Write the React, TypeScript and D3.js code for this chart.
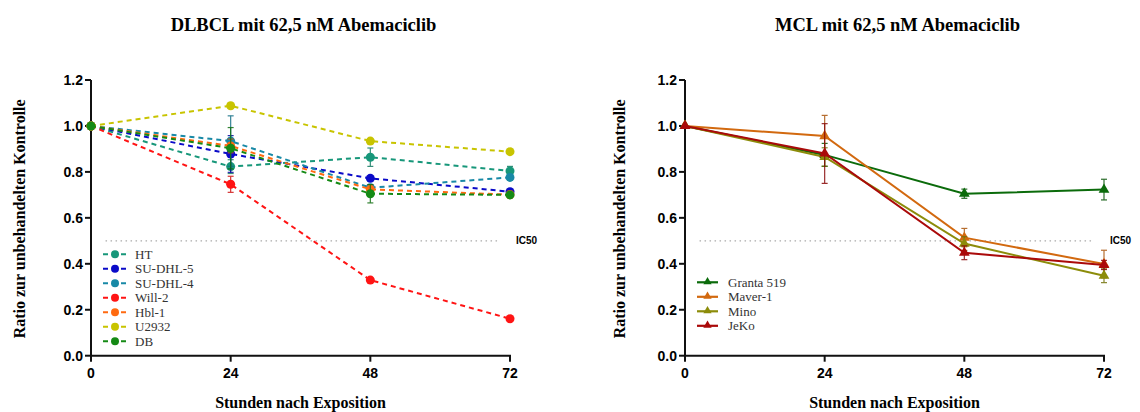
import React from "react";
import * as d3 from "d3";

const hours = [0, 24, 48, 72];
const yTicks = [0, 0.2, 0.4, 0.6, 0.8, 1.0, 1.2];

const dlbclNames = ["HT", "SU-DHL-5", "SU-DHL-4", "Will-2", "Hbl-1", "U2932", "DB"];
const dlbclColors = ["#17977a", "#0a0ac8", "#1889a6", "#ff1414", "#ff6a10", "#c8c400", "#158a15"];
const dlbclValues = [
  [1.0, 0.823, 0.864, 0.804],
  [1.0, 0.878, 0.772, 0.714],
  [1.0, 0.934, 0.731, 0.776],
  [1.0, 0.746, 0.329, 0.161],
  [1.0, 0.913, 0.724, 0.701],
  [1.0, 1.088, 0.934, 0.888],
  [1.0, 0.903, 0.705, 0.700],
];
const dlbclErrors = [
  [0, 0.03, 0.04, 0.02],
  [0, 0.08, 0.01, 0.01],
  [0, 0.11, 0.01, 0.01],
  [0, 0.035, 0.01, 0.005],
  [0, 0.03, 0.02, 0.015],
  [0, 0.01, 0.01, 0.01],
  [0, 0.09, 0.04, 0.01],
];

const mclNames = ["Granta 519", "Maver-1", "Mino", "JeKo"];
const mclColors = ["#0b6b0b", "#d2690f", "#8c8c0a", "#aa0a0a"];
const mclValues = [
  [1.0, 0.874, 0.705, 0.723],
  [1.0, 0.956, 0.514, 0.399],
  [1.0, 0.865, 0.488, 0.348],
  [1.0, 0.88, 0.448, 0.395],
];
const mclErrors = [
  [0, 0.05, 0.02, 0.045],
  [0, 0.09, 0.04, 0.06],
  [0, 0.04, 0.03, 0.03],
  [0, 0.13, 0.03, 0.02],
];

const serif = "'Liberation Serif', 'Times New Roman', serif";
const sans = "'Liberation Sans', Arial, sans-serif";

type PanelProps = {
  x0: number;
  x1: number;
  title: string;
  names: string[];
  colors: string[];
  values: number[][];
  errors: number[][];
  dashed: boolean;
  legendX: number;
  yLabelX: number;
};

function Panel({ x0, x1, title, names, colors, values, errors, dashed, legendX, yLabelX }: PanelProps) {
  const x = d3.scaleLinear().domain([0, 72]).range([x0, x1]);
  const y = d3.scaleLinear().domain([0, 1.2]).range([355.7, 80]);
  const line = d3
    .line<number>()
    .x((_, i) => x(hours[i]))
    .y((d) => y(d));
  const tri = d3.symbol().type(d3.symbolTriangle).size(50)();
  const cx = (x0 + x1) / 2;
  return (
    <g>
      <text x={cx + 3} y={31} textAnchor="middle" fontFamily={serif} fontWeight="bold" fontSize={18.5}>
        {title}
      </text>
      <text
        transform={`translate(${yLabelX},${y(0.6) + 1}) rotate(-90)`}
        textAnchor="middle"
        fontFamily={serif}
        fontWeight="bold"
        fontSize={16}
      >
        Ratio zur unbehandelten Kontrolle
      </text>
      <text x={cx} y={408} textAnchor="middle" fontFamily={serif} fontWeight="bold" fontSize={16}>
        Stunden nach Exposition
      </text>
      {/* IC50 line */}
      <line x1={x(2.5)} x2={x(70)} y1={y(0.5)} y2={y(0.5)} stroke="#aaa" strokeWidth={1.2} strokeDasharray="1.5,3.5" />
      <text x={x(72) + 6} y={y(0.5) + 3.5} fontFamily={sans} fontWeight="bold" fontSize={10}>
        IC50
      </text>
      {/* axes */}
      <line x1={x0} x2={x0} y1={y(1.2)} y2={y(0) + 1} stroke="#111" strokeWidth={2} />
      <line x1={x0 - 1} x2={x1 + 1} y1={y(0)} y2={y(0)} stroke="#111" strokeWidth={2} />
      {yTicks.map((t) => (
        <g key={t}>
          <line x1={x0 - 6} x2={x0} y1={y(t)} y2={y(t)} stroke="#111" strokeWidth={2} />
          <text x={x0 - 8} y={y(t) + 5} textAnchor="end" fontFamily={sans} fontWeight="bold" fontSize={14}>
            {t.toFixed(1)}
          </text>
        </g>
      ))}
      {hours.map((h) => (
        <g key={h}>
          <line x1={x(h)} x2={x(h)} y1={y(0)} y2={y(0) + 6} stroke="#111" strokeWidth={2} />
          <text x={x(h)} y={y(0) + 22} textAnchor="middle" fontFamily={sans} fontWeight="bold" fontSize={14}>
            {h}
          </text>
        </g>
      ))}
      {/* series */}
      {values.map((vals, si) => (
        <g key={si}>
          <path
            d={line(vals) || ""}
            fill="none"
            stroke={colors[si]}
            strokeWidth={2}
            strokeDasharray={dashed ? "5,4" : undefined}
          />
          {vals.map((v, i) =>
            errors[si][i] > 0 ? (
              <g key={i} stroke={d3.color(colors[si])!.darker(0.6).toString()} strokeWidth={1.2} opacity={0.85}>
                <line x1={x(hours[i])} x2={x(hours[i])} y1={y(v - errors[si][i])} y2={y(v + errors[si][i])} />
                <line x1={x(hours[i]) - 3} x2={x(hours[i]) + 3} y1={y(v - errors[si][i])} y2={y(v - errors[si][i])} />
                <line x1={x(hours[i]) - 3} x2={x(hours[i]) + 3} y1={y(v + errors[si][i])} y2={y(v + errors[si][i])} />
              </g>
            ) : null
          )}
          {vals.map((v, i) =>
            dashed ? (
              <circle key={i} cx={x(hours[i])} cy={y(v)} r={4.5} fill={colors[si]} />
            ) : (
              <path key={i} d={tri || ""} transform={`translate(${x(hours[i])},${y(v)})`} fill={colors[si]} />
            )
          )}
        </g>
      ))}
      {/* legend */}
      {names.map((n, i) => {
        const ly = (dashed ? 254.3 : 282.3) + i * 14.5;
        return (
          <g key={n}>
            {dashed ? (
              <>
                <line x1={legendX} x2={legendX + 24} y1={ly} y2={ly} stroke={colors[i]} strokeWidth={2} strokeDasharray="5,4" />
                <circle cx={legendX + 12} cy={ly} r={4} fill={colors[i]} />
              </>
            ) : (
              <>
                <line x1={legendX} x2={legendX + 21} y1={ly} y2={ly} stroke={colors[i]} strokeWidth={2.2} />
                <path d={d3.symbol().type(d3.symbolTriangle).size(30)() || ""} transform={`translate(${legendX + 10.5},${ly - 0.5})`} fill={colors[i]} />
              </>
            )}
            <text x={legendX + (dashed ? 32 : 31)} y={ly + 4.5} fontFamily={serif} fontSize={13} fill="#333">
              {n}
            </text>
          </g>
        );
      })}
    </g>
  );
}

export default function App() {
  return (
    <svg width={1140} height={412} style={{ position: "absolute", left: 0, top: 0, background: "#fff" }}>
      <rect width={1140} height={412} fill="#fff" />
      <Panel
        x0={91}
        x1={510}
        title="DLBCL mit 62,5 nM Abemaciclib"
        names={dlbclNames}
        colors={dlbclColors}
        values={dlbclValues}
        errors={dlbclErrors}
        dashed={true}
        legendX={103}
        yLabelX={25}
      />
      <Panel
        x0={685}
        x1={1104}
        title="MCL mit 62,5 nM Abemaciclib"
        names={mclNames}
        colors={mclColors}
        values={mclValues}
        errors={mclErrors}
        dashed={false}
        legendX={697}
        yLabelX={625}
      />
    </svg>
  );
}
